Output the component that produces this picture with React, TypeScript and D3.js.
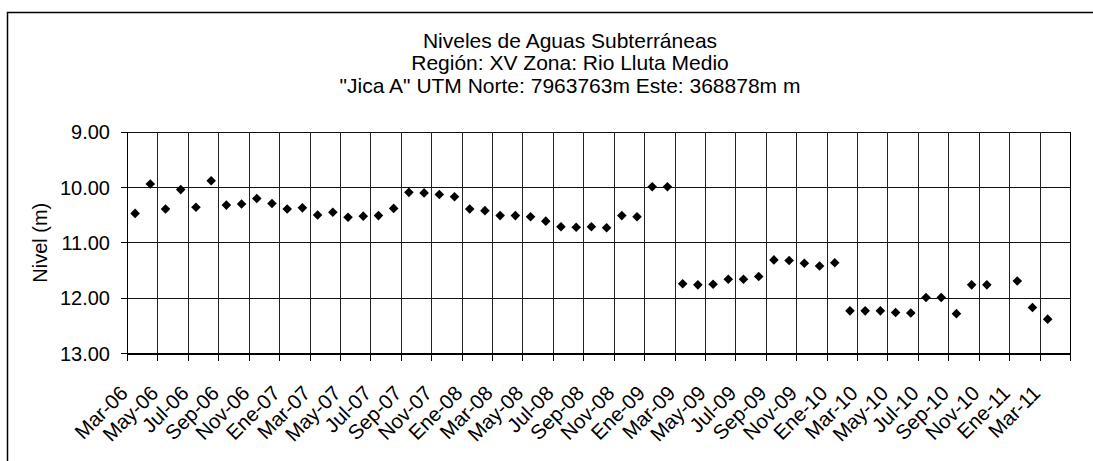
import React from "react";
import * as d3 from "d3";

const titleLines: string[] = [
  "Niveles de Aguas Subterráneas",
  "Región: XV Zona: Rio Lluta Medio",
  "\"Jica A\" UTM Norte: 7963763m Este: 368878m m",
];
const yLabel = "Nivel (m)";

const months: string[] = [
  "Mar-06", "Abr-06", "May-06", "Jun-06", "Jul-06", "Ago-06", "Sep-06", "Oct-06", "Nov-06", "Dic-06",
  "Ene-07", "Feb-07", "Mar-07", "Abr-07", "May-07", "Jun-07", "Jul-07", "Ago-07", "Sep-07", "Oct-07", "Nov-07", "Dic-07",
  "Ene-08", "Feb-08", "Mar-08", "Abr-08", "May-08", "Jun-08", "Jul-08", "Ago-08", "Sep-08", "Oct-08", "Nov-08", "Dic-08",
  "Ene-09", "Feb-09", "Mar-09", "Abr-09", "May-09", "Jun-09", "Jul-09", "Ago-09", "Sep-09", "Oct-09", "Nov-09", "Dic-09",
  "Ene-10", "Feb-10", "Mar-10", "Abr-10", "May-10", "Jun-10", "Jul-10", "Ago-10", "Sep-10", "Oct-10", "Nov-10", "Dic-10",
  "Ene-11", "Feb-11", "Mar-11", "Abr-11",
];

const nivel: (number | null)[] = [
  10.47, 9.94, 10.39, 10.04, 10.36, 9.88, 10.32, 10.30, 10.20, 10.29,
  10.39, 10.37, 10.50, 10.45, 10.54, 10.52, 10.51, 10.38, 10.09, 10.10, 10.13, 10.17,
  10.39, 10.42, 10.51, 10.51, 10.53, 10.61, 10.71, 10.72, 10.71, 10.73, 10.51, 10.53,
  9.99, 9.99, 11.74, 11.76, 11.75, 11.66, 11.66, 11.61, 11.31, 11.32, 11.37, 11.42,
  11.36, 12.23, 12.23, 12.23, 12.26, 12.27, 11.99, 11.99, 12.28, 11.76, 11.76, null,
  11.69, 12.17, 12.38, null,
];

const yTicks: number[] = [9, 10, 11, 12, 13];

const W = 1093;
const H = 461;
const FONT = "'Liberation Sans', Arial, sans-serif";

export default function App(): React.ReactElement {
  const left = 127.5, right = 1070.5, top = 132, bottom = 353.5;

  const x = d3.scaleBand<string>().domain(months).range([left, right]).padding(0);
  const y = d3.scaleLinear().domain([9, 13]).range([top, bottom]);

  const tickMonths = months.filter((_, i) => i % 2 === 0);
  const diamond = d3.symbol().type(d3.symbolSquare).size(46)() as string;

  return (
    <svg width={W} height={H} style={{position: "absolute", left: 0, top: 0, background: "#fff"}}
         fontFamily={FONT}>
      <rect x={7.5} y={12.5} width={1200} height={600} fill="#fff" stroke="#000" strokeWidth={1.5} />

      {titleLines.map((t, i) => (
        <text key={t} x={570} y={48 + i * 22.3} textAnchor="middle" fontSize={21} fill="#000">{t}</text>
      ))}

      <g shapeRendering="crispEdges">
        {yTicks.map(v => (
          <line key={"h" + v} x1={left} x2={right} y1={y(v)} y2={y(v)} stroke="#111" strokeWidth={1} />
        ))}
        {tickMonths.map(m => (
          <line key={"v" + m} x1={x(m)} x2={x(m)} y1={top} y2={bottom} stroke="#222" strokeWidth={1} />
        ))}
        <line x1={right} x2={right} y1={top} y2={bottom} stroke="#000" strokeWidth={1} />
        <line x1={left} x2={left} y1={top} y2={bottom} stroke="#000" strokeWidth={1} />
        {yTicks.map(v => (
          <line key={"yt" + v} x1={left - 7} x2={left} y1={y(v)} y2={y(v)} stroke="#000" strokeWidth={1} />
        ))}
        {tickMonths.map(m => (
          <line key={"xt" + m} x1={x(m)} x2={x(m)} y1={bottom} y2={bottom + 7} stroke="#000" strokeWidth={1} />
        ))}
        <line x1={right} x2={right} y1={bottom} y2={bottom + 7} stroke="#000" strokeWidth={1} />
        <line x1={left} x2={right} y1={bottom} y2={bottom} stroke="#000" strokeWidth={2} />
      </g>

      {yTicks.map(v => (
        <text key={"yl" + v} x={110} y={y(v)} dy="0.36em" textAnchor="end" fontSize={20} fill="#000">
          {v.toFixed(2)}
        </text>
      ))}

      <text transform={`translate(47,${(top + bottom) / 2}) rotate(-90)`} textAnchor="middle" fontSize={20} fill="#000">
        {yLabel}
      </text>

      {tickMonths.map(m => {
        const cx = (x(m) as number) + x.bandwidth() / 2;
        return (
          <text key={"xl" + m} transform={`translate(${cx - 6},${bottom + 41}) rotate(-45)`}
                textAnchor="end" fontSize={20.5} fill="#000">{m}</text>
        );
      })}

      <g>
        {nivel.map((v, i) => v === null ? null : (
          <path key={"p" + i} d={diamond}
                transform={`translate(${(x(months[i]) as number) + x.bandwidth() / 2},${y(v)}) rotate(45)`}
                fill="#000" />
        ))}
      </g>
    </svg>
  );
}
